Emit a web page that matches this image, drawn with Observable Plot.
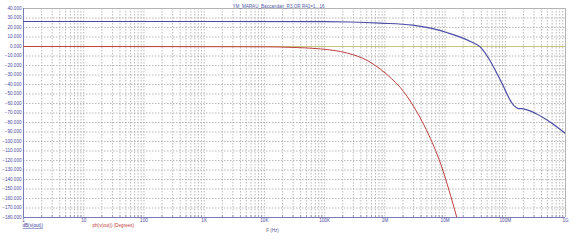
<!DOCTYPE html>
<html>
<head>
<meta charset="utf-8">
<script src="https://cdn.jsdelivr.net/npm/d3@7"></script>
<script src="https://cdn.jsdelivr.net/npm/@observablehq/plot@0.6"></script>
<style>
  html, body { margin: 0; padding: 0; background: #fff; }
  svg { display: block; }
</style>
</head>
<body>
<div id="chart"></div>
<script>
// Bode response of v(out): magnitude (dB) and phase (degrees) versus frequency
const freqGain = [1, 1e3, 1e5, 2.7e5, 8.5e5, 2.9e6, 6e6, 1.1e7, 2.7e7, 3.9e7, 5e7, 8.4e7, 1.38e8, 1.65e8, 2e8, 3.2e8, 5.7e8, 1e9];
const gainDb   = [26.3, 26.3, 26.2, 25.8, 24.6, 22.5, 19.0, 14.5, 5.0, -1, -10, -36, -62, -65.3, -65.6, -70.5, -80, -91.6];

const freqPhase = [1, 1e4, 3e4, 8.5e4, 2.4e5, 5.2e5, 8.5e5, 1.3e6, 1.8e6, 3e6, 5e6, 8.5e6, 1.25e7, 1.6e7];
const phaseDeg  = [0, -0.3, -1, -2.5, -7, -15, -24, -34, -43, -63, -89, -124, -158, -182];

// Reference level line
const refLevel = [0];

// Axis ticks
const decadeTicks  = [1, 10, 100, 1e3, 1e4, 1e5, 1e6, 1e7, 1e8, 1e9];
const decadeLabels = ["1", "10", "100", "1K", "10K", "100K", "1M", "10M", "100M", "1G"];
const yTicks = [40, 30, 20, 10, 0, -10, -20, -30, -40, -50, -60, -70, -80, -90, -100,
                -110, -120, -130, -140, -150, -160, -170, -180];

const titleText = "YM_MARAU_Bacсandan_R3.OR R41=1...16";
const legendGain = "dB(v(out))";
const legendPhase = "ph(v(out)) (Degrees)";
const xLabel = "F (Hz)";

const gain  = freqGain.map((f, i) => ({f, v: gainDb[i]}));
const phase = freqPhase.map((f, i) => ({f, v: phaseDeg[i]}));
const minorTicks = decadeTicks.slice(0, -1).flatMap(d => [2, 3, 4, 5, 6, 7, 8, 9].map(k => d * k));
const fmt = d3.format(".3f");

const axisBlue = "#4a4aa0";
const gridGray = "#a9a9a9";

const chart = Plot.plot({
  width: 578,
  height: 240,
  marginLeft: 23,
  marginRight: 13,
  marginTop: 8,
  marginBottom: 23,
  style: {background: "#fff", fontFamily: "'Liberation Sans', Arial, sans-serif", fontSize: "4.6px"},
  x: {type: "log", domain: [1, 1e9], axis: null},
  y: {domain: [-180, 40], axis: null},
  marks: [
    // dotted grid
    Plot.ruleX([...decadeTicks, ...minorTicks], {stroke: gridGray, strokeDasharray: "1.5,1.5", strokeWidth: 0.8}),
    Plot.ruleY(yTicks, {stroke: gridGray, strokeDasharray: "1.5,1.5", strokeWidth: 0.8}),
    // frame
    Plot.ruleX([1e9], {stroke: "#b4b4b4"}),
    Plot.ruleY([40], {stroke: "#b4b4b4"}),
    Plot.ruleX([1], {stroke: "#7a7ab4"}),
    Plot.ruleY([-180], {stroke: "#7a7ab4"}),
    Plot.ruleX(minorTicks, {y1: -180, y2: -178, stroke: "#8a8ab8", strokeWidth: 0.8}),
    // traces
    Plot.ruleY(refLevel, {stroke: "#c9c27c", strokeWidth: 1}),
    Plot.line(gain, {x: "f", y: "v", stroke: "#4c4ca6", strokeWidth: 1.2, curve: "monotone-x", clip: true}),
    Plot.line(phase, {x: "f", y: "v", stroke: "#bf4040", strokeWidth: 1, curve: "monotone-x", clip: true}),
    // tick labels
    Plot.text(yTicks, {x: 1, y: d => d, text: d => fmt(d), textAnchor: "end", dx: -2, fill: axisBlue}),
    Plot.text(decadeTicks, {x: d => d, y: -180, text: (d, i) => decadeLabels[i], dy: 3, fill: axisBlue}),
    // title, legend, axis label
    Plot.text([titleText], {text: d => d, frameAnchor: "top", dx: -16, dy: -4, fill: "#4e5aa6"}),
    Plot.text([legendGain], {text: d => d, frameAnchor: "bottom-left", textAnchor: "start", dx: -1, dy: 9.7, fill: "#3a3aa0"}),
    Plot.text([legendPhase], {text: d => d, frameAnchor: "bottom-left", textAnchor: "start", dx: 69, dy: 9.7, fill: "#c04040"}),
    Plot.text([xLabel], {text: d => d, frameAnchor: "bottom", dx: -22, dy: 14, fill: "#5a5a90"})
  ]
});

d3.select(chart).selectAll("text")
  .filter(function() { return this.textContent === legendGain; })
  .style("text-decoration", "underline");

document.getElementById("chart").appendChild(chart);
</script>
</body>
</html>
